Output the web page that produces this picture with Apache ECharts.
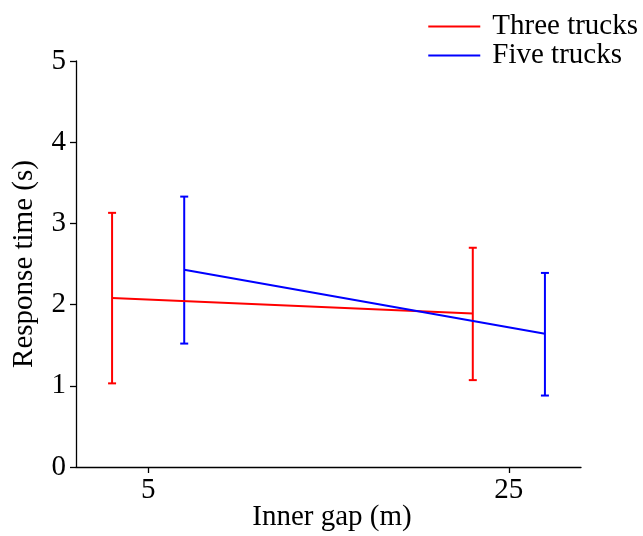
<!DOCTYPE html>
<html>
<head>
<meta charset="utf-8">
<script src="https://cdn.jsdelivr.net/npm/echarts@6/dist/echarts.min.js"></script>
<style>html,body{margin:0;padding:0;background:#fff;}#c{width:643px;height:536px;}</style>
</head>
<body>
<div id="c"></div>
<script>
const seriesNames = ['Three trucks', 'Five trucks'];
const xTicks = [5, 25];
const gapsThree = [3, 23];
const meansThree = [2.08, 1.89];
const lowThree = [1.03, 1.07];
const highThree = [3.13, 2.70];
const gapsFive = [7, 27];
const meansFive = [2.43, 1.64];
const lowFive = [1.52, 0.88];
const highFive = [3.33, 2.39];

const FONT = 'Liberation Serif';
const FS = 29;
const colors = ['#ff0000', '#0000ff'];

function errData(xs, lo, hi) { return xs.map((x, i) => [x, lo[i], hi[i]]); }
function errorRender(color) {
  return function (params, api) {
    const x = api.value(0);
    const lo = api.coord([x, api.value(1)]);
    const hi = api.coord([x, api.value(2)]);
    const cw = 4;
    const style = { stroke: color, lineWidth: 2 };
    return {
      type: 'group',
      children: [
        { type: 'line', shape: { x1: lo[0], y1: lo[1], x2: hi[0], y2: hi[1] }, style },
        { type: 'line', shape: { x1: lo[0] - cw, y1: lo[1], x2: lo[0] + cw, y2: lo[1] }, style },
        { type: 'line', shape: { x1: hi[0] - cw, y1: hi[1], x2: hi[0] + cw, y2: hi[1] }, style }
      ]
    };
  };
}

const chart = echarts.init(document.getElementById('c'), null, { renderer: 'canvas' });
chart.setOption({
  backgroundColor: '#fff',
  animation: false,
  textStyle: { fontFamily: FONT },
  legend: {
    data: seriesNames.map((n, i) => ({ name: n, itemStyle: { color: colors[i] } })),
    right: 0,
    top: 7,
    orient: 'vertical',
    icon: 'rect',
    itemWidth: 52,
    itemHeight: 2,
    itemGap: 0,
    textStyle: { fontFamily: FONT, fontSize: FS, color: '#000', padding: [0, 0, 0, 7], lineHeight: 28 }
  },
  grid: { left: 76, right: 62, top: 61, bottom: 69, containLabel: false, outerBoundsMode: 'none' },
  xAxis: {
    type: 'value',
    min: 1, max: 29,
    name: 'Inner gap (m)',
    nameLocation: 'middle',
    nameGap: 36,
    nameMoveOverlap: false,
    nameTextStyle: { fontFamily: FONT, fontSize: FS, color: '#000', padding: [0, 0, 0, 7] },
    axisLine: { show: true, lineStyle: { color: '#000', width: 1.3 } },
    axisTick: { show: true, length: 6, lineStyle: { color: '#000', width: 1.3 }, customValues: xTicks },
    axisLabel: { fontFamily: FONT, fontSize: FS, color: '#000', margin: 9, customValues: xTicks },
    splitLine: { show: false }
  },
  yAxis: {
    type: 'value',
    min: 0, max: 5, interval: 1,
    name: 'Response time (s)',
    nameLocation: 'middle',
    nameGap: 37,
    nameMoveOverlap: false,
    nameTextStyle: { fontFamily: FONT, fontSize: FS, color: '#000' },
    axisLine: { show: true, lineStyle: { color: '#000', width: 1.3 } },
    axisTick: { show: true, length: 6, lineStyle: { color: '#000', width: 1.3 } },
    axisLabel: { fontFamily: FONT, fontSize: FS, color: '#000', margin: 10 },
    splitLine: { show: false }
  },
  series: [
    {
      name: seriesNames[0], type: 'line', symbol: 'none', color: colors[0],
      lineStyle: { width: 2, color: colors[0] },
      data: gapsThree.map((x, i) => [x, meansThree[i]])
    },
    {
      name: seriesNames[1], type: 'line', symbol: 'none', color: colors[1],
      lineStyle: { width: 2, color: colors[1] },
      data: gapsFive.map((x, i) => [x, meansFive[i]])
    },
    {
      name: seriesNames[0], type: 'custom', renderItem: errorRender(colors[0]),
      data: errData(gapsThree, lowThree, highThree), encode: { x: 0, y: [1, 2] }, z: 3
    },
    {
      name: seriesNames[1], type: 'custom', renderItem: errorRender(colors[1]),
      data: errData(gapsFive, lowFive, highFive), encode: { x: 0, y: [1, 2] }, z: 3
    }
  ]
});
</script>
</body>
</html>
